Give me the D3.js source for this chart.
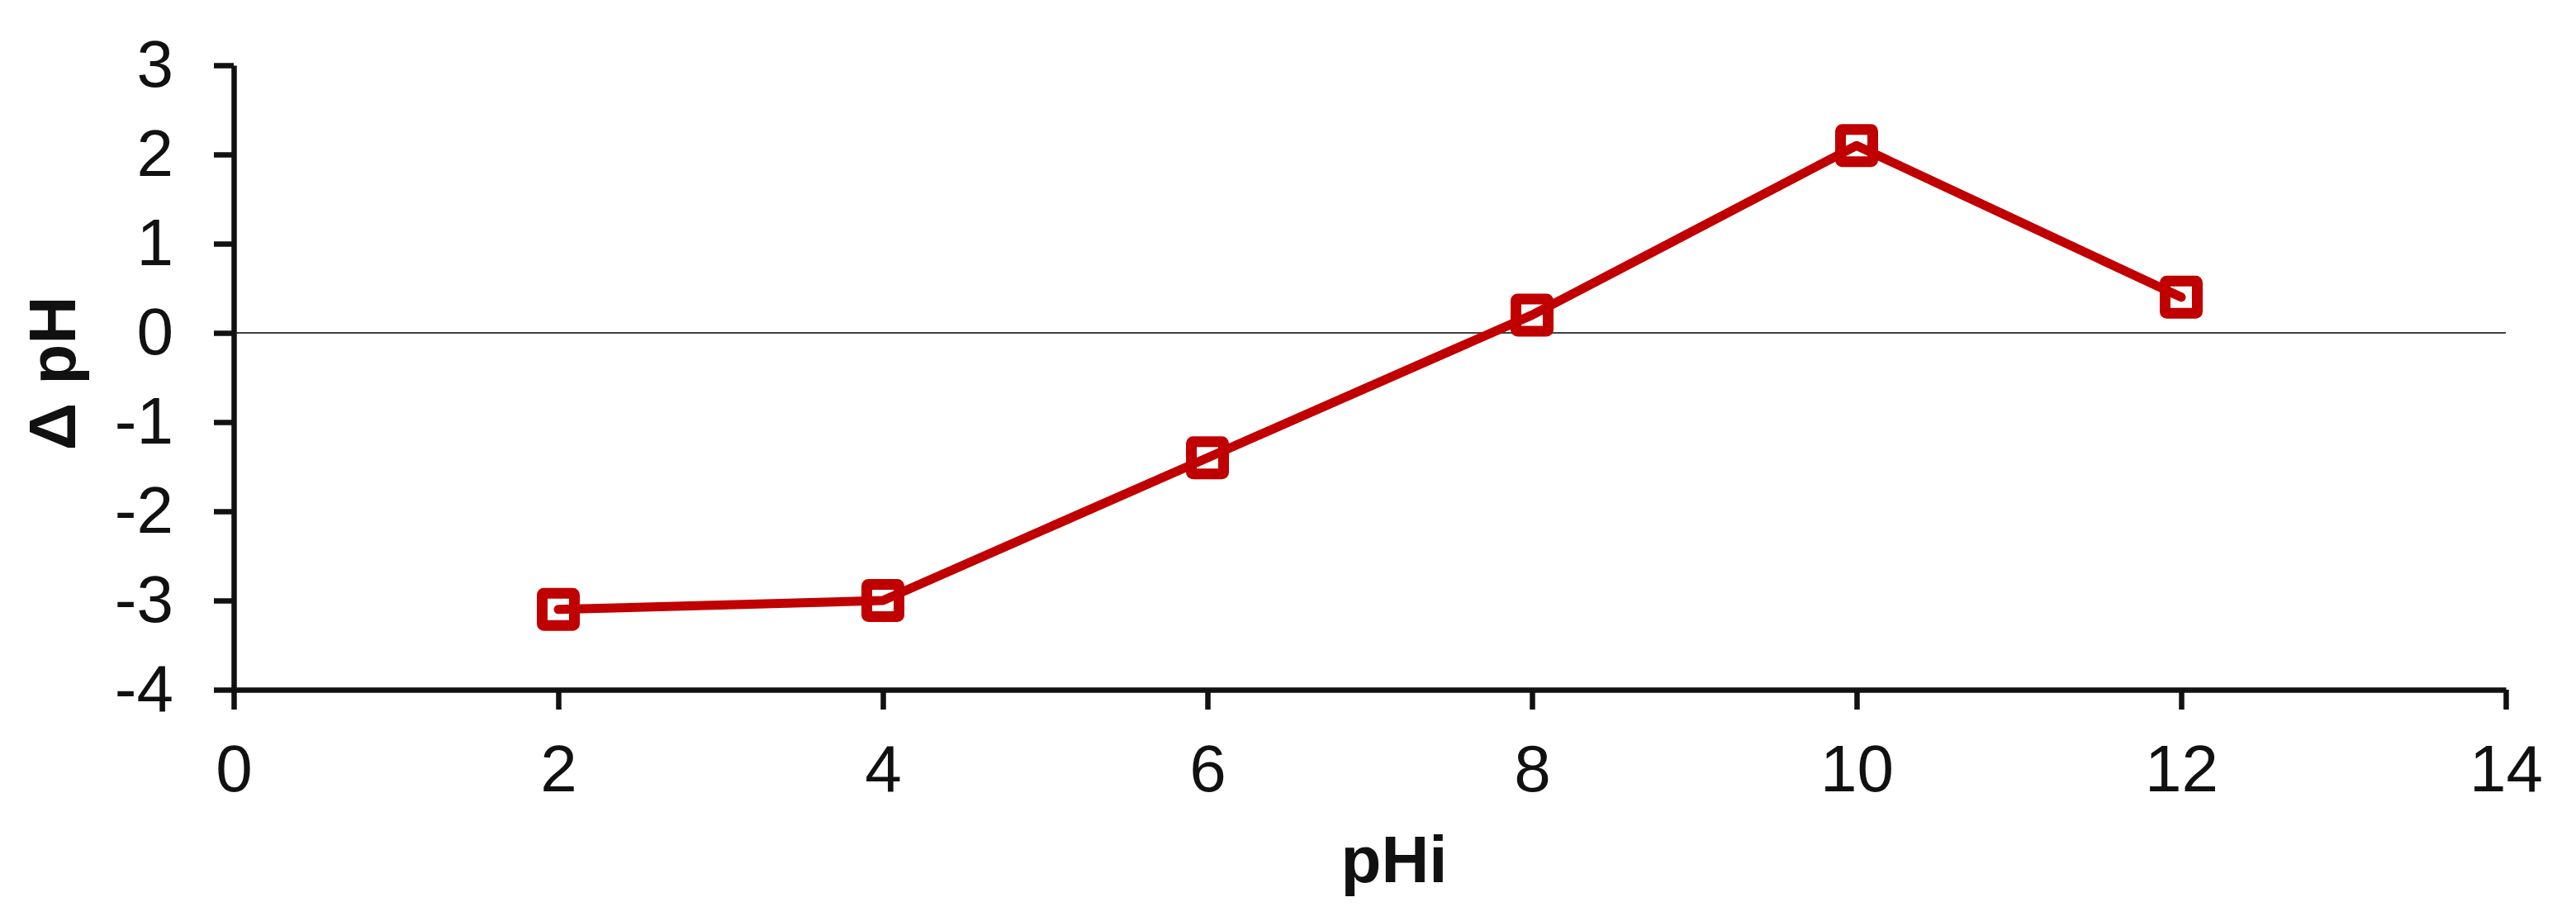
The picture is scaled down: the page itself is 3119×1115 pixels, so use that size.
<!DOCTYPE html>
<html>
<head>
<meta charset="utf-8">
<script src="https://cdn.jsdelivr.net/npm/d3@7"></script>
<style>
  html, body { margin: 0; padding: 0; background: #fff; }
  svg { display: block; }
</style>
</head>
<body>
<script>
// ---- Data ----
const pHi = [2, 4, 6, 8, 10, 12];
const deltaPH = [-3.1, -3.0, -1.4, 0.2, 2.1, 0.4];
const xTicks = [0, 2, 4, 6, 8, 10, 12, 14];
const yTicks = [-4, -3, -2, -1, 0, 1, 2, 3];
const xTitle = "pHi";
const yTitle = "Δ pH";

// ---- Layout ----
const W = 3119, H = 1115;
const plotLeft = 283, plotRight = 3034, plotTop = 79, plotBottom = 835;
const font = "'Liberation Sans', Arial, sans-serif";
const ink = "#111";
const red = "#C00000";

const svg = d3.select("body").append("svg")
  .attr("width", W).attr("height", H)
  .style("font-family", font);

const x = d3.scaleLinear().domain([0, 14]).range([plotLeft, plotRight]);
const y = d3.scaleLinear().domain([-4, 3]).range([plotBottom, plotTop]);

// zero reference line
svg.append("line")
  .attr("x1", x(0)).attr("x2", x(14))
  .attr("y1", y(0)).attr("y2", y(0))
  .attr("stroke", "#000").attr("stroke-width", 1.5);

// axes
const yAxis = svg.append("g")
  .attr("transform", `translate(${plotLeft},0)`)
  .call(d3.axisLeft(y).tickValues(yTicks).tickSize(24).tickSizeOuter(0).tickPadding(49).tickFormat(d3.format("d")));
const xAxis = svg.append("g")
  .attr("transform", `translate(0,${plotBottom})`)
  .call(d3.axisBottom(x).tickValues(xTicks).tickSize(24).tickSizeOuter(0).tickPadding(42).tickFormat(d3.format("d")));

[yAxis, xAxis].forEach(g => {
  g.select(".domain").attr("stroke", ink).attr("stroke-width", 6.5);
  g.selectAll(".tick line").attr("stroke", ink).attr("stroke-width", 6.5);
  g.selectAll(".tick text").attr("fill", ink)
    .style("font-size", "80px").style("font-family", font);
});
yAxis.selectAll(".tick text").text(d => d < 0 ? "-" + Math.abs(d) : d);

// axis titles
svg.append("text")
  .attr("x", 1688).attr("y", 1068)
  .attr("text-anchor", "middle")
  .style("font-size", "80px").style("font-weight", "bold")
  .attr("fill", ink)
  .text(xTitle);

svg.append("text")
  .attr("transform", `translate(91,452) rotate(-90)`)
  .attr("text-anchor", "middle")
  .style("font-size", "80px").style("font-weight", "bold")
  .attr("fill", ink)
  .text(yTitle);

// series
const pts = pHi.map((v, i) => [v, deltaPH[i]]);
const line = d3.line().x(d => x(d[0])).y(d => y(d[1]));

const s = 39;
svg.append("g").selectAll("rect").data(pts).join("rect")
  .attr("x", d => x(d[0]) - s / 2)
  .attr("y", d => y(d[1]) - s / 2)
  .attr("width", s).attr("height", s)
  .attr("rx", 2)
  .attr("fill", "none")
  .attr("stroke", red)
  .attr("stroke-width", 13)
  .attr("stroke-linejoin", "round");

svg.append("path")
  .datum(pts)
  .attr("d", line)
  .attr("fill", "none")
  .attr("stroke", red)
  .attr("stroke-width", 11)
  .attr("stroke-linejoin", "round")
  .attr("stroke-linecap", "round");
</script>
</body>
</html>
